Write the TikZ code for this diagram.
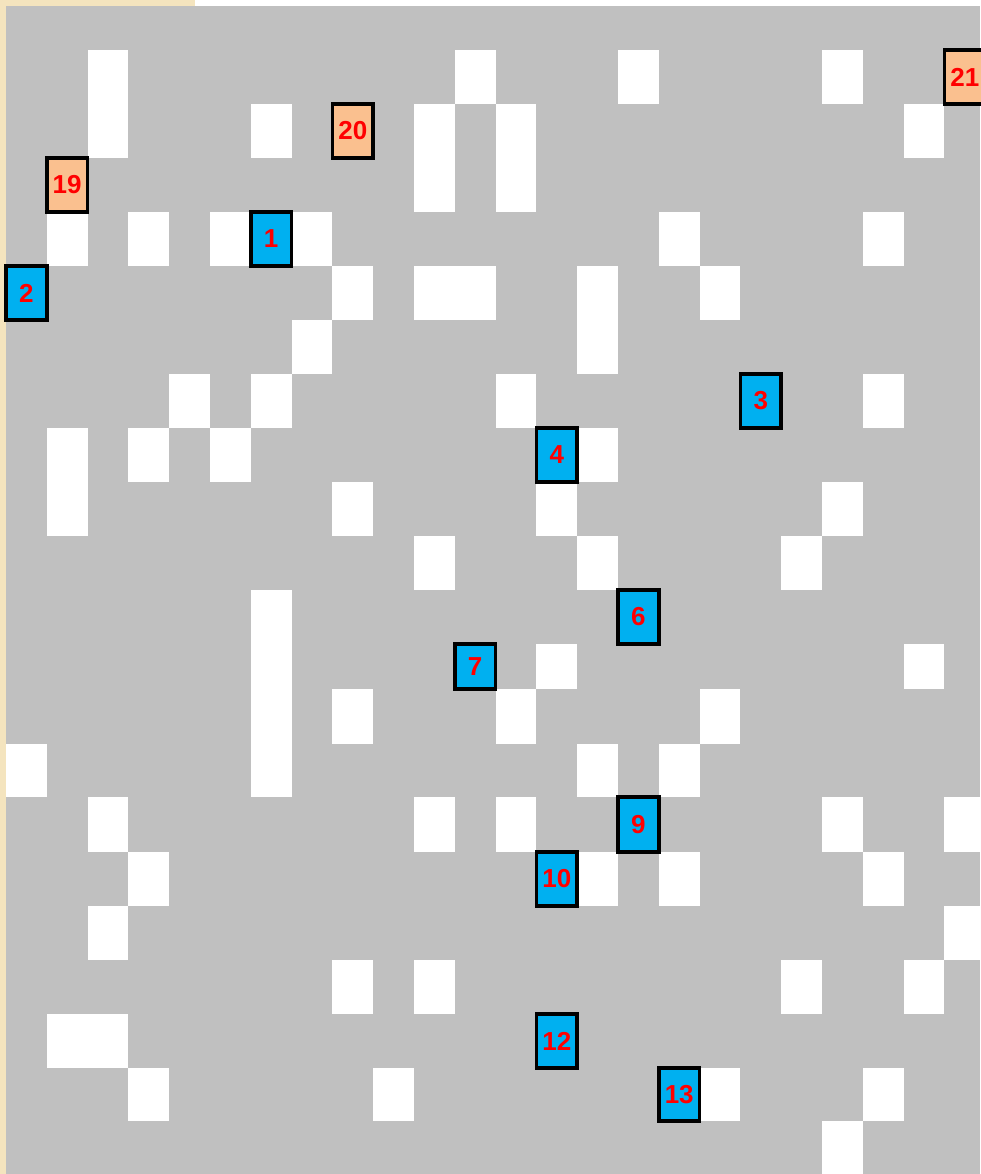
\documentclass[tikz,border=0pt]{standalone}
\usepackage{fontspec}
\setmainfont{Liberation Sans}
\definecolor{cellgray}{RGB}{192,192,192}
\definecolor{boxblue}{RGB}{0,176,240}
\definecolor{boxpeach}{RGB}{250,192,143}
\definecolor{paper}{RGB}{244,228,190}
\begin{document}
\begin{tikzpicture}[x=1pt,y=-1pt,
  whitecell/.style={fill=white},
  numbox/.style={draw=black, line width=3.5pt, minimum width=40.8pt, inner sep=0pt,
    text=red, font=\fontsize{26}{26}\selectfont\bfseries}]
\useasboundingbox (0,0) rectangle (980,1174);
\fill[paper] (0,0) rectangle (195,6);
\fill[white] (195,0) rectangle (980,6);
\fill[paper] (0,0) rectangle (6,1174);
\fill[cellgray] (6,6) rectangle (980,1174);
\def\rowtops{{6,50,104,158,212,266,320,374,428,482,536,590,644,689,744,797,852,906,960,1014,1068,1121,1174}}
\begin{scope}
\clip (6,6) rectangle (980,1174);
\foreach \c/\r in {
  2/1,11/1,15/1,20/1,
  2/2,6/2,10/2,12/2,22/2,
  10/3,12/3,
  1/4,3/4,5/4,7/4,16/4,21/4,
  8/5,10/5,11/5,14/5,17/5,
  7/6,14/6,
  4/7,6/7,12/7,21/7,
  1/8,3/8,5/8,14/8,
  1/9,8/9,13/9,20/9,
  10/10,14/10,19/10,
  6/11,
  6/12,13/12,22/12,
  6/13,8/13,12/13,17/13,
  0/14,6/14,14/14,16/14,
  2/15,10/15,12/15,20/15,23/15,
  3/16,14/16,16/16,21/16,
  2/17,23/17,
  8/18,10/18,19/18,22/18,
  1/19,2/19,
  3/20,9/20,17/20,21/20,
  20/21}{
  \pgfmathsetmacro\ya{\rowtops[\r]}
  \pgfmathsetmacro\yb{\rowtops[\r+1]}
  \fill[whitecell] ({6+40.8*\c},\ya) rectangle ({6+40.8*(\c+1)},\yb);
}
\end{scope}
\foreach \n/\c/\r/\col in {
  1/6/4/boxblue, 2/0/5/boxblue, 3/18/7/boxblue, 4/13/8/boxblue,
  6/15/11/boxblue, 7/11/12/boxblue, 9/15/15/boxblue, 10/13/16/boxblue,
  12/13/19/boxblue, 13/16/20/boxblue,
  19/1/3/boxpeach, 20/8/2/boxpeach, 21/23/1/boxpeach}{
  \pgfmathsetmacro\ya{\rowtops[\r]}
  \pgfmathsetmacro\yb{\rowtops[\r+1]}
  \pgfmathsetmacro\h{\yb-\ya}
  \pgfmathsetmacro\yc{(\ya+\yb)/2}
  \pgfmathsetmacro\xc{6+40.8*(\c+0.5)}
  \node[numbox, fill=\col, minimum height=\h pt] (b\n) at (\xc,\yc) {\raisebox{-1pt}{\n}};
}
\end{tikzpicture}
\end{document}
